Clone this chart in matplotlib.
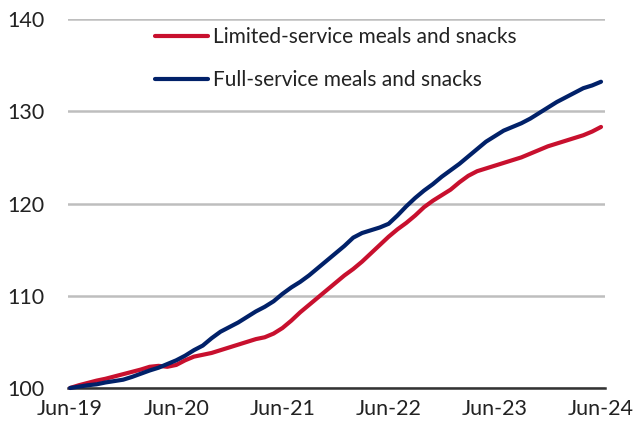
import matplotlib
matplotlib.use("Agg")
import matplotlib.pyplot as plt

# monthly index, Jun-19 = 100
months = list(range(61))
limited = [100.0, 100.3, 100.55, 100.8, 101.0, 101.25, 101.5, 101.75, 102.0, 102.3,
           102.4, 102.3, 102.5, 103.0, 103.4, 103.6, 103.8, 104.1, 104.4, 104.7,
           105.0, 105.3, 105.5, 105.9, 106.5, 107.3, 108.2, 109.0, 109.8, 110.6,
           111.4, 112.2, 112.9, 113.7, 114.6, 115.5, 116.4, 117.2, 117.9, 118.7,
           119.6, 120.3, 120.9, 121.5, 122.3, 123.0, 123.5, 123.8, 124.1, 124.4,
           124.7, 125.0, 125.4, 125.8, 126.2, 126.5, 126.8, 127.1, 127.4, 127.8,
           128.3]
full = [100.0, 100.15, 100.3, 100.4, 100.6, 100.75, 100.9, 101.2, 101.55, 101.9,
        102.2, 102.6, 103.0, 103.5, 104.1, 104.6, 105.4, 106.1, 106.6, 107.1,
        107.7, 108.3, 108.8, 109.4, 110.2, 110.9, 111.5, 112.2, 113.0, 113.8,
        114.6, 115.4, 116.3, 116.8, 117.1, 117.4, 117.8, 118.7, 119.7, 120.6,
        121.4, 122.1, 122.9, 123.6, 124.3, 125.1, 125.9, 126.7, 127.3, 127.9,
        128.3, 128.7, 129.2, 129.8, 130.4, 131.0, 131.5, 132.0, 132.5, 132.8,
        133.2]
tick_pos = [0, 12, 24, 36, 48, 60]
tick_labels = ["Jun-19", "Jun-20", "Jun-21", "Jun-22", "Jun-23", "Jun-24"]

plt.rcParams['font.family'] = ['Lato', 'DejaVu Sans']

fig = plt.figure(figsize=(6.33, 4.29), dpi=100)
ax = fig.add_axes([68/633, 1-388/429, (605-68)/633, (388-19)/429])

ax.plot(months, limited, color='#C8102E', lw=3, solid_capstyle='round',
        label='Limited-service meals and snacks', clip_on=False, zorder=3)
ax.plot(months, full, color='#012169', lw=3, solid_capstyle='round',
        label='Full-service meals and snacks', clip_on=False, zorder=4)

ax.set_xlim(-0.23, 60.45)
ax.set_ylim(100, 140)
ax.set_yticks([100, 110, 120, 130, 140])
ax.set_xticks(tick_pos)
ax.set_xticklabels(tick_labels)
ax.yaxis.grid(True, color='#BEBEBE', lw=1.8)
ax.set_axisbelow(True)
for s in ['top', 'right', 'left']:
    ax.spines[s].set_visible(False)
ax.spines['bottom'].set_color('#333333')
ax.spines['bottom'].set_linewidth(1.8)
ax.tick_params(axis='both', length=0, labelsize=15.5, colors='#222222')
ax.tick_params(axis='y', pad=17)
ax.tick_params(axis='x', pad=8)

leg = ax.legend(loc='upper left', bbox_to_anchor=(155/633, 1-27/429),
                bbox_transform=fig.transFigure, frameon=False, fontsize=15,
                handlelength=2.55, handletextpad=0.22, labelspacing=1.12,
                borderpad=0, borderaxespad=0)
for t in leg.get_texts():
    t.set_color('#222222')

fig.savefig('out.png', dpi=100)
